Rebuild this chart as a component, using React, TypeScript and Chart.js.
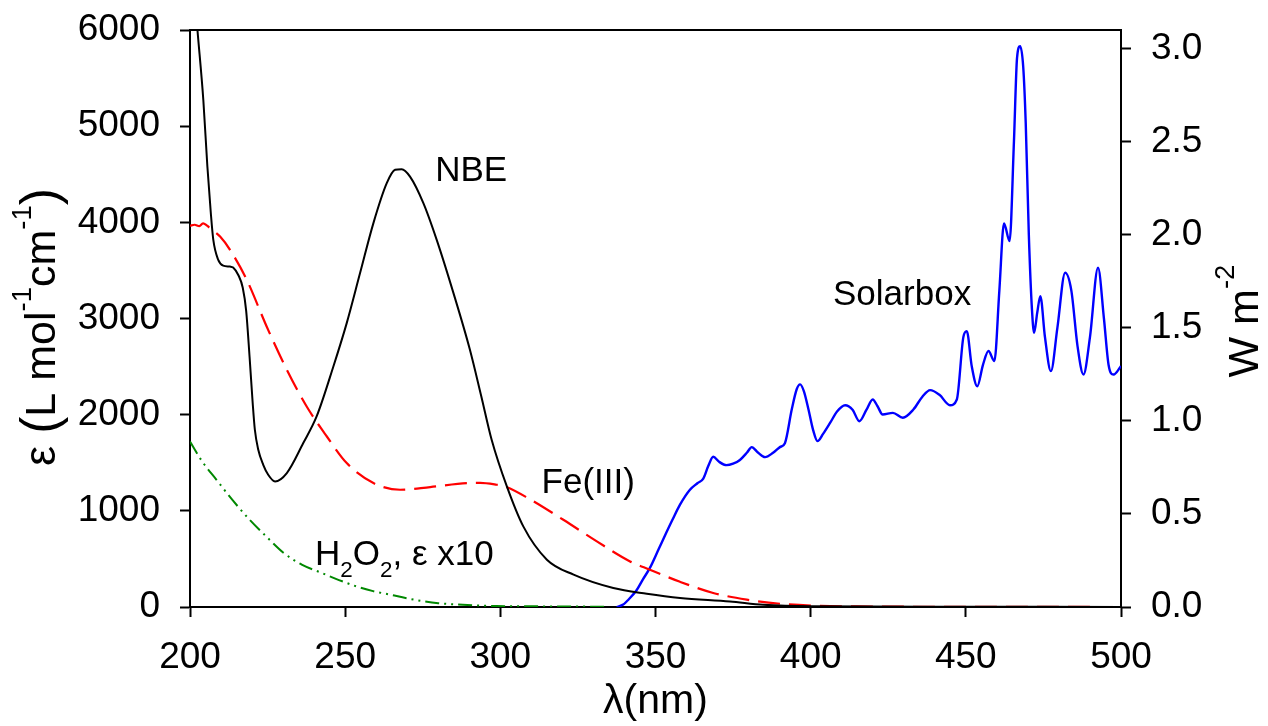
import React, { useEffect, useRef } from 'react';
import { Chart, registerables } from 'chart.js';

Chart.register(...registerables);

// ---------- data ----------
const xRange = [200, 500];
const xStep = 50;
const leftRange = [0, 6000];
const leftStep = 1000;
const rightRange = [0, 3.1];
const rightStep = 0.5;

const nbeWavelength = [200, 202.4, 204.3, 205.6, 206.7, 207.5, 209.1, 210.7, 212.9, 213.9, 215.6, 217.0, 218.1, 219.2, 220.2, 220.9, 222.0, 223.6, 225.2, 227.4, 231.2, 236.5, 240.8, 246.2, 250.5, 254.8, 259.1, 263.4, 266.1, 268.2, 270.9, 275.2, 279.5, 284.9, 290.2, 293.8, 297.2, 302.1, 307.4, 315, 323.6, 336.4, 347.2, 357.9, 374, 384.8, 400, 450, 500];
const nbeEpsilon = [6950, 6000, 5270, 4580, 4100, 3820, 3610, 3550, 3540, 3530, 3450, 3320, 3080, 2600, 2121, 1843, 1635, 1479, 1375, 1306, 1393, 1705, 1981, 2501, 2952, 3472, 3992, 4407, 4546, 4553, 4476, 4200, 3818, 3264, 2675, 2200, 1739, 1254, 838, 492, 336, 197, 138, 94, 58, 24, 8, 3, 0];

const feWavelength = [200, 201.5, 203, 204.2, 205.5, 206.4, 209.7, 212.9, 218.3, 224.7, 231.2, 237.6, 244.1, 250.5, 259.1, 267.7, 277.4, 290.2, 293.5, 298.8, 301.5, 309.6, 320.3, 331.1, 341.8, 348.2, 357.9, 368.6, 379.4, 390.1, 400.8, 420, 450, 500];
const feEpsilon = [3964, 3975, 3960, 3990, 3965, 3940, 3852, 3714, 3402, 2917, 2467, 2085, 1773, 1497, 1289, 1219, 1247, 1289, 1290, 1271, 1254, 1120, 907, 682, 474, 388, 262, 146, 76, 34, 14, 5, 2, 0];

const h2o2Wavelength = [200, 204, 208.6, 214, 219.3, 225, 230.1, 236, 242, 248, 253.7, 259, 264.5, 270, 275.2, 280, 285.9, 292, 298.8, 310, 320, 335];
const h2o2Epsilon = [1720, 1510, 1320, 1100, 905, 720, 565, 440, 360, 280, 214, 165, 128, 90, 60, 40, 26, 16, 10, 7, 5, 3];

const solarWavelength = [337.5, 339.6, 341, 343.9, 346, 348.2, 351, 353.5, 355.5, 357.9, 361.1, 363.5, 365.4, 367, 368.6, 370.5, 372.9, 375, 377.2, 379.5, 381, 383, 385.3, 388, 390.1, 391.7, 393.9, 395.5, 396.6, 397.8, 399.3, 400.8, 402.2, 404, 406.3, 408.5, 411.1, 413.5, 415.7, 418, 420, 421.5, 423.2, 426.5, 429.7, 433.1, 436, 438.5, 441.5, 444.9, 447.1, 449.2, 450.3, 451.9, 453.7, 455.5, 457.3, 459.2, 460.8, 462.3, 464.1, 465.5, 466.5, 467.5, 468.5, 469.3, 470.3, 471.3, 472, 473, 474, 475.5, 477.4, 479.5, 482, 484, 486, 487.9, 490, 492.6, 494.5, 496, 497.6, 500];
const solarIrradiance = [0, 0.013, 0.035, 0.09, 0.15, 0.21, 0.31, 0.40, 0.47, 0.55, 0.63, 0.665, 0.69, 0.757, 0.807, 0.78, 0.762, 0.77, 0.79, 0.83, 0.859, 0.83, 0.805, 0.83, 0.859, 0.88, 1.061, 1.17, 1.196, 1.16, 1.061, 0.95, 0.891, 0.93, 0.99, 1.05, 1.084, 1.06, 0.998, 1.06, 1.115, 1.08, 1.034, 1.043, 1.017, 1.061, 1.13, 1.165, 1.14, 1.084, 1.115, 1.45, 1.482, 1.294, 1.186, 1.3, 1.375, 1.321, 1.7, 2.061, 1.966, 2.5, 2.95, 3.013, 2.9, 2.6, 2.0, 1.6, 1.473, 1.58, 1.67, 1.45, 1.267, 1.5, 1.796, 1.7, 1.4, 1.249, 1.45, 1.823, 1.55, 1.3, 1.249, 1.294];

const zip = (xs: number[], ys: number[]) => xs.map((x, i) => ({ x, y: ys[i] }));

// ---------- text helpers ----------
const FONT = '"Liberation Sans", Arial, Helvetica, sans-serif';
type Seg = { t: string; s?: 'sup' | 'sub'; k?: number };

function segSize(sg: Seg, size: number) {
  const base = sg.s ? size * 0.64 : size;
  return base * (sg.k || 1);
}

function richWidth(ctx: CanvasRenderingContext2D, segs: Seg[], size: number) {
  let w = 0;
  for (const sg of segs) {
    ctx.font = `${segSize(sg, size)}px ${FONT}`;
    w += ctx.measureText(sg.t).width;
  }
  return w;
}

function drawRich(ctx: CanvasRenderingContext2D, segs: Seg[], x: number, y: number, size: number, align: 'left' | 'center') {
  const total = richWidth(ctx, segs, size);
  let cx = align === 'center' ? x - total / 2 : x;
  ctx.textAlign = 'left';
  ctx.textBaseline = 'alphabetic';
  for (const sg of segs) {
    ctx.font = `${segSize(sg, size)}px ${FONT}`;
    let dy = 0;
    if (sg.s === 'sup') dy = -size * 0.55;
    if (sg.s === 'sub') dy = size * 0.36;
    if (!sg.s && sg.k && sg.k > 1 && /[()]/.test(sg.t)) dy = size * 0.05;
    ctx.fillText(sg.t, cx, y + dy);
    cx += ctx.measureText(sg.t).width;
  }
}

const textPlugin = {
  id: 'richTexts',
  afterDraw(chart: any) {
    const ctx: CanvasRenderingContext2D = chart.ctx;
    const { left, right, top } = chart.chartArea;
    const xs = chart.scales.x;
    const ys = chart.scales.y;
    ctx.save();
    // top frame line
    ctx.strokeStyle = '#000';
    ctx.lineWidth = 2;
    ctx.beginPath();
    ctx.moveTo(left - 1, top);
    ctx.lineTo(right + 1, top);
    ctx.stroke();

    ctx.fillStyle = '#000';
    const lbl = 35;
    drawRich(ctx, [{ t: 'NBE' }], xs.getPixelForValue(279), ys.getPixelForValue(4430), lbl, 'left');
    drawRich(ctx, [{ t: 'Fe(III)' }], xs.getPixelForValue(313.3), ys.getPixelForValue(1188), lbl, 'left');
    drawRich(ctx, [{ t: 'Solarbox' }], xs.getPixelForValue(407.2), ys.getPixelForValue(3142), lbl, 'left');
    drawRich(ctx, [{ t: 'H' }, { t: '2', s: 'sub' }, { t: 'O' }, { t: '2', s: 'sub' }, { t: ', ε x10' }], xs.getPixelForValue(240.3), ys.getPixelForValue(440), lbl, 'left');

    // axis titles
    drawRich(ctx, [{ t: 'λ(nm)' }], (left + right) / 2, 713, 41, 'center');

    const tsz = 43;
    ctx.save();
    ctx.translate(55, 327);
    ctx.rotate(-Math.PI / 2);
    drawRich(ctx, [
      { t: 'ε', k: 1.05 },
      { t: ' ' },
      { t: '(', k: 1.2 },
      { t: 'L mol' },
      { t: '-1', s: 'sup' },
      { t: 'cm' },
      { t: '-1', s: 'sup' },
      { t: ')', k: 1.2 },
    ], 0, 0, tsz, 'center');
    ctx.restore();

    ctx.save();
    ctx.translate(1258, 321);
    ctx.rotate(-Math.PI / 2);
    drawRich(ctx, [{ t: 'W m' }, { t: '-2', s: 'sup' }], 0, 0, tsz, 'center');
    ctx.restore();

    ctx.restore();
  },
};

export default function App() {
  const ref = useRef<HTMLCanvasElement | null>(null);

  useEffect(() => {
    if (!ref.current) return;
    const tickFont = { family: FONT, size: 37 };
    const gridCommon = {
      drawOnChartArea: false,
      drawTicks: true,
      tickLength: 10,
      tickWidth: 2,
      tickColor: '#000',
    };
    const borderCommon = { display: true, color: '#000', width: 2 };

    const chart = new Chart(ref.current, {
      type: 'line',
      data: {
        datasets: [
          {
            label: 'NBE',
            data: zip(nbeWavelength, nbeEpsilon),
            borderColor: '#000000',
            borderWidth: 2,
            pointRadius: 0,
            cubicInterpolationMode: 'monotone',
            yAxisID: 'y',
          },
          {
            label: 'Fe(III)',
            data: zip(feWavelength, feEpsilon),
            borderColor: '#ff0000',
            borderWidth: 2.2,
            borderDash: [22, 9],
            pointRadius: 0,
            cubicInterpolationMode: 'monotone',
            yAxisID: 'y',
          },
          {
            label: 'H2O2',
            data: zip(h2o2Wavelength, h2o2Epsilon),
            borderColor: '#008800',
            borderWidth: 2,
            borderDash: [14, 5, 2, 5, 2, 5],
            pointRadius: 0,
            cubicInterpolationMode: 'monotone',
            yAxisID: 'y',
          },
          {
            label: 'Solarbox',
            data: zip(solarWavelength, solarIrradiance),
            borderColor: '#0000ff',
            borderWidth: 2.4,
            pointRadius: 0,
            cubicInterpolationMode: 'monotone',
            yAxisID: 'y1',
          },
        ],
      },
      options: {
        animation: false,
        responsive: false,
        devicePixelRatio: 1,
        layout: { padding: { top: 30, left: 0, right: 0, bottom: 0 } },
        plugins: {
          legend: { display: false },
          tooltip: { enabled: false },
        },
        scales: {
          x: {
            type: 'linear',
            position: 'bottom',
            min: xRange[0],
            max: xRange[1],
            ticks: { stepSize: xStep, font: tickFont, color: '#000', padding: 19, maxRotation: 0 },
            grid: gridCommon,
            border: borderCommon,
            afterFit: (s: any) => { s.height = 119; s.paddingLeft = 0; s.paddingRight = 0; },
          },
          y: {
            type: 'linear',
            position: 'left',
            min: leftRange[0],
            max: leftRange[1],
            ticks: { stepSize: leftStep, font: tickFont, color: '#000', padding: 20, callback: (v: any) => String(v) },
            grid: gridCommon,
            border: borderCommon,
            afterFit: (s: any) => { s.width = 190; s.paddingTop = 0; s.paddingBottom = 0; },
          },
          y1: {
            type: 'linear',
            position: 'right',
            min: rightRange[0],
            max: rightRange[1],
            ticks: {
              stepSize: rightStep,
              includeBounds: false,
              font: tickFont,
              color: '#000',
              padding: 20,
              callback: (v: any) => Number(v).toFixed(1),
            },
            grid: gridCommon,
            border: borderCommon,
            afterFit: (s: any) => { s.width = 1268 - 1121; s.paddingTop = 0; s.paddingBottom = 0; },
          },
        },
      } as any,
      plugins: [textPlugin],
    });
    return () => chart.destroy();
  }, []);

  return (
    <div style={{ position: 'fixed', left: 0, top: 0, width: 1268, height: 726, background: '#fff' }}>
      <canvas ref={ref} width={1268} height={726} style={{ width: 1268, height: 726, display: 'block' }} />
    </div>
  );
}
